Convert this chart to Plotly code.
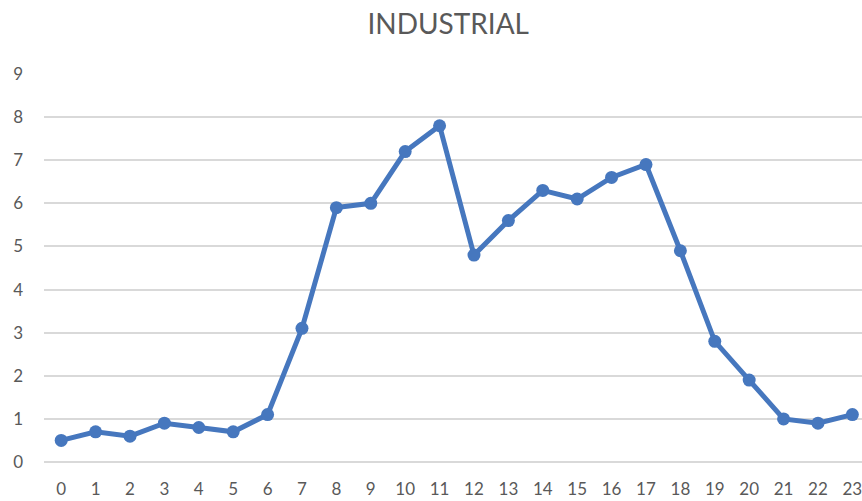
import plotly.graph_objects as go

# Hourly industrial load profile
hours = list(range(24))
hour_labels = [str(h) for h in hours]
load = [0.5, 0.7, 0.6, 0.9, 0.8, 0.7, 1.1, 3.1, 5.9, 6.0, 7.2, 7.8,
        4.8, 5.6, 6.3, 6.1, 6.6, 6.9, 4.9, 2.8, 1.9, 1.0, 0.9, 1.1]
y_ticks = list(range(10))

line_color = "#4677BE"
text_color = "#595959"
grid_color = "#D9D9D9"

fig = go.Figure(
    go.Scatter(
        x=hours,
        y=load,
        mode="lines+markers",
        line=dict(color=line_color, width=5),
        marker=dict(color=line_color, size=13),
        showlegend=False,
        cliponaxis=False,
    )
)

fig.update_layout(
    width=862,
    height=501,
    paper_bgcolor="white",
    plot_bgcolor="white",
    margin=dict(l=44, r=0, t=74, b=39),
    font=dict(family="Lato, Open Sans, sans-serif", color=text_color, size=17),
    title=dict(
        text="INDUSTRIAL",
        x=0.52,
        xanchor="center",
        y=0.952,
        yanchor="middle",
        font=dict(size=28, color=text_color),
    ),
)

fig.update_xaxes(
    range=[-0.5, 23.28],
    automargin=False,
    tickmode="array",
    tickvals=hours,
    ticktext=hour_labels,
    ticklabeloverflow="allow",
    showgrid=False,
    showline=False,
    zeroline=False,
    ticks="",
    ticklabelstandoff=15,
    tickfont=dict(size=17, color=text_color),
)

fig.update_yaxes(
    range=[0, 9],
    automargin=False,
    tickmode="array",
    tickvals=y_ticks,
    showgrid=True,
    gridcolor=grid_color,
    gridwidth=1.5,
    zeroline=True,
    zerolinecolor=grid_color,
    zerolinewidth=1.5,
    showline=False,
    ticks="",
    ticklabelstandoff=20,
    tickfont=dict(size=17, color=text_color),
)

fig.write_html("out.html")
